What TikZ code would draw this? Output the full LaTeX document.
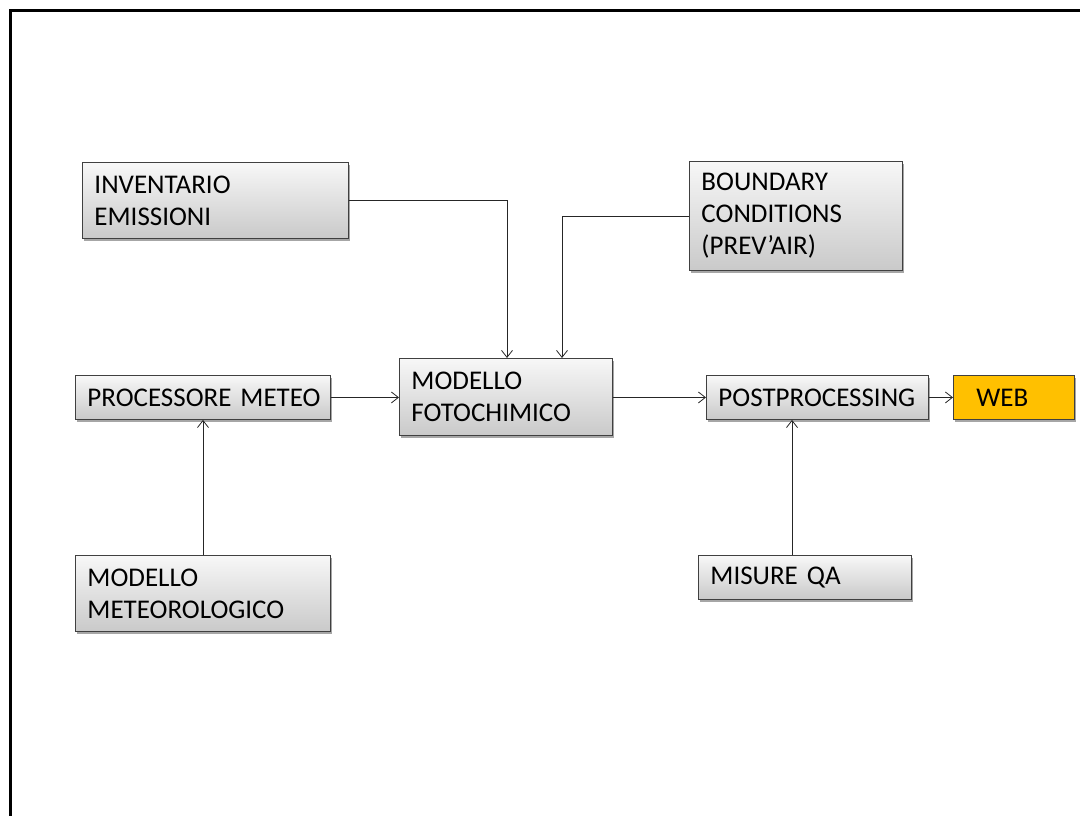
\documentclass[tikz,border=0pt]{standalone}
\usepackage{fontspec}
\setmainfont{Carlito}
\usetikzlibrary{arrows.meta,shadows}
\definecolor{boxedge}{HTML}{404040}
\definecolor{webfill}{HTML}{FFC000}
\newcommand{\boxfont}{\fontsize{27}{32}\selectfont\setlength{\spaceskip}{5.4pt}}
\tikzset{
  box/.style={draw=boxedge, line width=0.9pt, top color=gray!6, bottom color=gray!42,
    drop shadow={shadow xshift=2pt, shadow yshift=-2.5pt, opacity=0.35, fill=black},
    inner xsep=12pt, inner ysep=0pt, align=left, anchor=north west,
    font=\boxfont},
  webbox/.style={box, top color=webfill, bottom color=webfill},
  conn/.style={line width=0.8pt, draw=black!85, -{Straight Barb[length=7pt,width=11pt,line width=0.8pt]}}
}
\begin{document}
\begin{tikzpicture}[x=1pt,y=-1pt]
\useasboundingbox (0,0) rectangle (1080,816);
\begin{scope}
\clip (0,0) rectangle (1080,816);
\draw[line width=2.6pt] (10.5,830) -- (10.5,10.5) -- (1100,10.5);
\end{scope}
% boxes: text width = w - 24, minimum height = h
\node[box, text width=242pt, minimum height=76pt] (inv) at (82,162) {INVENTARIO\\EMISSIONI};
\node[box, text width=189pt, minimum height=109pt] (bnd) at (689,161) {BOUNDARY\\CONDITIONS\\(PREV’AIR)};
\node[box, text width=231pt, minimum height=44pt] (proc) at (75,375) {\mbox{PROCESSORE METEO}};
\node[box, text width=189pt, minimum height=77pt] (foto) at (399,358) {MODELLO\\FOTOCHIMICO};
\node[box, text width=198pt, minimum height=44pt] (post) at (706,375) {\mbox{POSTPROCESSING}};
\node[webbox, text width=97pt, minimum height=44pt] (web) at (953,375) {\hspace*{11pt}WEB};
\node[box, text width=231pt, minimum height=76pt] (met) at (75,555) {MODELLO\\METEOROLOGICO};
\node[box, text width=189pt, minimum height=44pt] (mis) at (698,555) {\mbox{MISURE QA}};
% connectors
\draw[conn] (inv.east |- 0,200) -| (foto.north -| 507,0);
\draw[conn] (bnd.west |- 0,216) -| (foto.north -| 562,0);
\draw[conn] (proc.east) -- (proc.east -| foto.west);
\draw[conn] (foto.east |- post.west) -- (post.west);
\draw[conn] (post.east) -- (web.west);
\draw[conn] (met.north -| 203,0) -- (proc.south -| 203,0);
\draw[conn] (mis.north -| 792,0) -- (post.south -| 792,0);
\end{tikzpicture}
\end{document}
